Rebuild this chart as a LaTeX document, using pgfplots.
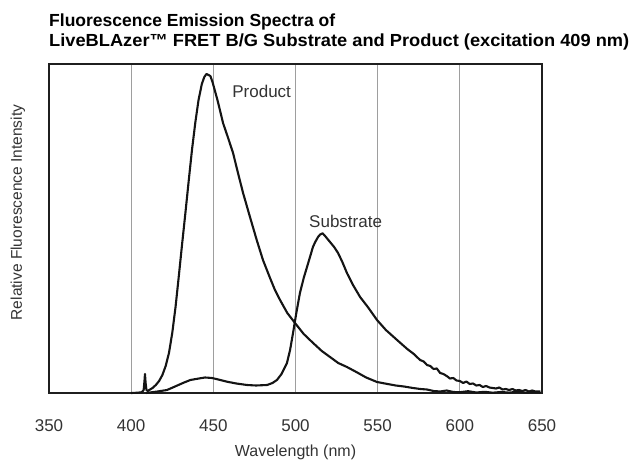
\documentclass[border=0pt]{standalone}
\usepackage{fontspec}
\setmainfont{Liberation Sans}
\usepackage{pgfplots}
\pgfplotsset{compat=1.18}
\begin{document}
\begin{tikzpicture}
\useasboundingbox (-49pt,-72pt) rectangle (582pt,393pt);
\begin{axis}[
  at={(0pt,0pt)}, anchor=south west,
  scale only axis, width=493pt, height=329pt,
  xmin=350, xmax=650, ymin=0, ymax=329,
  xtick={350,400,...,650}, ytick=\empty,
  major tick length=0pt,
  xmajorgrids, grid style={color=black!38, line width=0.9pt},
  axis line style={line width=2.5pt, color=black!88},
  /pgf/number format/assume math mode=true,
  /pgf/number format/1000 sep={},
  xticklabel style={font=\fontsize{17}{20}\selectfont, text=black!80, anchor=base, yshift=-38pt},
  xlabel={Wavelength (nm)},
  xlabel style={font=\fontsize{16}{19}\selectfont, text=black!80, at={(axis description cs:0.5,-0.1945)}, anchor=base},
  ylabel={Relative Fluorescence Intensity},
  ylabel style={font=\fontsize{15.5}{18}\selectfont, text=black!80, at={(axis description cs:-0.0629,0.5486)}, anchor=center, rotate=0},
  clip=false,
]
\addplot[line width=2.1pt, black!92, line join=round] table {
x y
400 0
404 0.3
406.5 0.8
407.6 3
408.1 12
408.4 19
408.8 10
409.3 3
410.2 2
411 3
413 5
415 8
417 12
419 18
421 27
423 40
425 60
427 86
429 117
431 149
433 180
435 212
437 243
439 270
441 293
443 309
444.5 316
445.8 319
447 318
448.2 317
449.5 311
451 302
452.5 293
454 283
455.9 270
459 255
462.0 240
465.0 220
468.1 200
472.3 176
476.4 153
480.2 133
484.5 115
487.5 103
490.6 93
495.0 80
499.7 70
505 59
510.7 50
516 42
521.0 36
526 30
531.3 26
537 21
543 15.5
549.6 11
556 9
561 7.5
566 6.5
571.5 5
576 4
580 3.5
584 2
588 1.5
592 2.5
596 1
600 0.8
605 1.8
610 0.5
615 1.2
620 0.3
625 1.0
630 0.4
635 1.2
640 0.3
645 0.9
649 0.5
};
\addplot[line width=2.1pt, black!92, line join=round] table {
x y
409 0
411.5 0.5
416 1.5
421.8 3
426 6
431.5 10
436 13
441.9 14.7
445 15.5
449.2 15
453 13.5
458.3 11.3
464 9.5
470.5 8
476 7.5
482.7 8
486 10
488.7 13
491.5 19
494.8 30
496.7 43
498.5 60
500.5 80
502.7 100
505 115
507.0 126
509 137
510.6 146
512 151
513.7 156
515 158.5
516.5 159.7
518 157
519.5 154
521.0 151
523.5 146
525.9 140
528.5 131
531.3 120
535 108
539.3 96
544 86
549.6 73
555 63
561.8 53
568 44
572 39
575.8 33
578 31.5
580 28
582 27
584 24
586 24.5
588 20
590 19
592 17
594 14.5
596 15
598 12.5
600 12
602 10
604 11.5
606 9
608 9.5
610 7.5
612 8
614 6
616 7
618 5.5
620 5
622 4.5
624 5.5
626 3.5
628 4
630 3
632 4
634 2.5
636 3
638 2
640 3
642 1.5
644 2.5
646 1.5
649 1.5
};
\node[font=\fontsize{17}{20}\selectfont, text=black!80] at (axis cs:479.4,301.3) {Product};
\node[font=\fontsize{17}{20}\selectfont, text=black!80] at (axis cs:530.5,171.3) {Substrate};
\end{axis}
\node[anchor=base west, font=\bfseries\fontsize{17.5}{20}\selectfont, inner sep=0pt] at (0pt,366pt) {Fluorescence Emission Spectra of};
\node[anchor=base west, font=\bfseries\fontsize{17.5}{20}\selectfont, inner sep=0pt] at (0pt,346pt) {\scalebox{1.043}[1]{LiveBLAzer™ FRET B/G Substrate and Product (excitation 409 nm)}};
\end{tikzpicture}
\end{document}
